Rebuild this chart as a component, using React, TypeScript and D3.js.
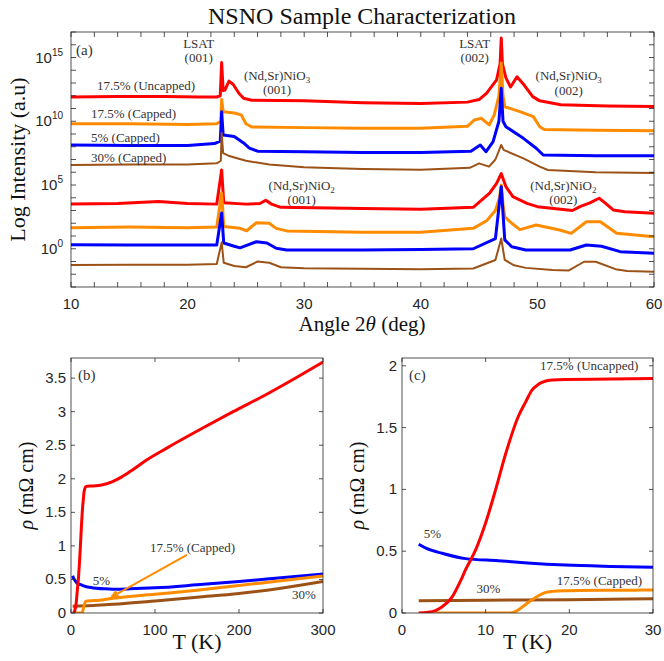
import React from 'react';
import * as d3 from 'd3';

// ---------- colours ----------
const RED = '#ff0000';
const ORANGE = '#ff8c00';
const BLUE = '#0000ff';
const BROWN = '#9c5216';

// ---------- panel (a) XRD data: [angle 2θ (deg), log10 intensity] ----------
const xrdRedUpper: [number, number][] = [
  [10, 11.9], [14, 11.95], [18, 11.95], [21, 11.9], [22.5, 11.9], [22.8, 12.0], [22.92, 14.6], [23.05, 12.4],
  [23.2, 12.45], [23.55, 13.15], [23.9, 12.9], [24.4, 12.2], [24.8, 11.8], [25.5, 11.65], [30, 11.6], [35, 11.45],
  [40, 11.4], [44, 11.5], [45, 11.7], [45.65, 12.2], [46.5, 13.24], [46.8, 14.5], [46.9, 16.53], [47.0, 14.5],
  [47.3, 13.4], [47.7, 12.69], [48.25, 13.49], [48.9, 12.8], [49.6, 11.93], [50.2, 11.6], [52, 11.3], [56, 11.2], [60, 11.15],
];
const xrdOrangeUpper: [number, number][] = [
  [10, 9.8], [15, 9.8], [20, 9.75], [22.5, 9.8], [22.85, 10.0], [22.92, 11.7], [23.05, 10.75], [24.0, 10.65],
  [24.6, 10.5], [25.0, 9.8], [25.5, 9.55], [30, 9.5], [35, 9.45], [40, 9.45], [44, 9.6], [44.6, 10.1], [45.2, 10.23],
  [45.87, 9.71], [46.3, 10.5], [46.7, 12.0], [46.9, 14.57], [47.05, 12.0], [47.2, 11.14], [48.5, 10.75], [49.65, 10.36],
  [50.2, 9.57], [50.6, 9.35], [55, 9.3], [60, 9.25],
];
const xrdBlueUpper: [number, number][] = [
  [10, 8.14], [15, 8.1], [20, 8.1], [22.3, 8.25], [22.8, 8.45], [22.92, 10.75], [23.05, 8.92], [24.0, 8.8],
  [24.8, 8.3], [25.3, 7.9], [26, 7.65], [30, 7.6], [35, 7.55], [40, 7.55], [44.3, 7.65], [45.1, 8.14], [45.6, 7.61],
  [46.2, 8.4], [46.7, 10.0], [46.9, 12.58], [47.05, 10.0], [47.3, 9.57], [48.8, 8.66], [49.9, 7.88], [50.5, 7.35],
  [55, 7.3], [60, 7.3],
];
const xrdBrownUpper: [number, number][] = [
  [10, 6.57], [15, 6.6], [20, 6.6], [22.5, 6.7], [22.85, 6.9], [22.92, 9.08], [23.05, 7.5], [23.5, 7.3], [25, 6.9],
  [27, 6.6], [30, 6.4], [35, 6.25], [40, 6.2], [44.2, 6.35], [45.0, 6.7], [45.85, 6.44], [46.4, 7.0], [46.9, 8.14],
  [47.1, 7.75], [48.8, 7.09], [50.2, 6.44], [50.9, 6.18], [55, 6.0], [60, 5.94],
];
const xrdRedLower: [number, number][] = [
  [10, 3.5], [14, 3.55], [17.5, 3.7], [20, 3.55], [22.5, 3.5], [22.92, 6.18], [23.1, 3.6], [25, 3.5], [26.2, 3.55],
  [26.7, 3.8], [27.2, 3.5], [28, 3.25], [35, 3.15], [40, 3.1], [44.5, 3.25], [45.9, 4.37], [46.5, 5.13], [46.9, 5.9],
  [47.3, 4.87], [47.9, 4.08], [49.1, 3.56], [50, 3.3], [53, 3.0], [53.65, 3.3], [54.5, 3.6], [55.3, 3.96], [55.8, 3.6],
  [56.5, 3.04], [57.5, 2.9], [60, 2.78],
];
const xrdOrangeLower: [number, number][] = [
  [10, 1.65], [15, 1.7], [20, 1.65], [22.5, 1.7], [22.92, 4.37], [23.1, 1.75], [24.5, 1.6], [25.07, 1.41], [25.9, 2.04],
  [27.0, 2.0], [27.6, 1.6], [28.5, 1.4], [35, 1.3], [40, 1.3], [44.5, 1.6], [45.65, 2.2], [46.4, 3.0], [46.75, 4.0],
  [46.9, 5.0], [47.05, 3.5], [47.2, 2.51], [47.8, 2.0], [48.5, 1.5], [49.9, 1.86], [51.9, 1.47], [52.9, 1.21],
  [54.2, 2.12], [55.4, 2.12], [56.8, 1.21], [60, 0.95],
];
const xrdBlueLower: [number, number][] = [
  [10, 0.31], [15, 0.3], [20, 0.3], [22.5, 0.3], [22.92, 2.8], [23.1, 0.45], [24.0, 0.2], [24.5, 0.07], [25.9, 0.55],
  [26.8, 0.45], [27.6, 0.04], [28.5, -0.1], [35, -0.1], [40, -0.05], [44.5, 0.0], [46.4, 0.8], [46.9, 4.87], [47.2, 0.7],
  [47.8, 0.16], [49, -0.1], [52.8, -0.1], [54.2, 0.29], [55.5, 0.2], [57.1, -0.23], [60, -0.36],
];
const xrdBrownLower: [number, number][] = [
  [10, -1.27], [15, -1.25], [20, -1.25], [22.5, -1.2], [22.92, 0.5], [23.1, -1.1], [24, -1.35], [25, -1.45], [26, -1.0],
  [27, -1.1], [28, -1.45], [30, -1.53], [40, -1.6], [44.5, -1.55], [46.4, -0.88], [46.9, 0.8], [47.2, -0.88], [48, -1.3],
  [49, -1.5], [51.3, -1.67], [52.7, -1.7], [54, -1.02], [55, -1.02], [56.7, -1.6], [57.7, -1.75], [60, -1.8],
];

const xrdXTicks = [10, 20, 30, 40, 50, 60];
const xrdYTickExps = [0, 5, 10, 15];

// ---------- panels (b),(c) resistivity data: [T (K), ρ (mΩ cm)] ----------
const rhoUncapped175: [number, number][] = [
  [2, 0], [3, 0.005], [4, 0.02], [4.8, 0.05], [6, 0.13], [7, 0.26], [7.6, 0.35], [8.8, 0.51], [10, 0.73], [11.2, 1.0],
  [12.4, 1.29], [13.9, 1.59], [14.8, 1.71], [15.5, 1.8], [16.3, 1.85], [17.1, 1.875], [18, 1.885], [19.5, 1.89],
  [25, 1.893], [30, 1.897], [35, 1.905], [40, 1.918], [45, 1.937], [50, 1.962], [60, 2.025], [74, 2.14], [90, 2.28],
  [113, 2.45], [153, 2.73], [193, 3.0], [233, 3.26], [270, 3.52], [300, 3.74],
];
const rho5: [number, number][] = [
  [2, 0.556], [3, 0.52], [4.8, 0.483], [7.6, 0.44], [11.5, 0.423], [15, 0.405], [19.5, 0.388], [25, 0.377], [30, 0.37],
  [40, 0.36], [50, 0.355], [70, 0.36], [100, 0.375], [150, 0.42], [200, 0.47], [250, 0.525], [300, 0.58],
];
const rhoCapped175: [number, number][] = [
  [4, 0], [12.7, 0], [13.3, 0.005], [13.9, 0.025], [14.7, 0.065], [15.5, 0.105], [16.3, 0.14], [17.1, 0.165],
  [18, 0.175], [19.5, 0.18], [25, 0.184], [30, 0.186], [40, 0.2], [50, 0.22], [100, 0.28], [150, 0.34], [200, 0.41],
  [250, 0.48], [300, 0.55],
];
const rho30: [number, number][] = [
  [2, 0.1], [10, 0.103], [20, 0.108], [30, 0.115], [50, 0.13], [100, 0.18], [150, 0.235], [200, 0.29], [250, 0.37], [300, 0.47],
];

const bXTicks = [0, 100, 200, 300];
const bYTicks = [0, 0.5, 1, 1.5, 2, 2.5, 3, 3.5];
const cXTicks = [0, 10, 20, 30];
const cYTicks = [0, 0.5, 1, 1.5, 2];

const SERIF = "'Liberation Serif', 'Times New Roman', serif";
const SANS = "'Liberation Sans', Arial, Helvetica, sans-serif";
const AXIS = '#262626';
const TXT = '#333333';

// ---------- layout ----------
const A = { l: 71, r: 654, t: 32, b: 287 };
const B = { l: 71, r: 323, t: 358, b: 613 };
const C = { l: 402, r: 653, t: 358, b: 613 };

function Box({ p }: { p: { l: number; r: number; t: number; b: number } }) {
  return <rect x={p.l} y={p.t} width={p.r - p.l} height={p.b - p.t} fill="none" stroke={AXIS} strokeWidth={0.8} />;
}

function PanelA() {
  const x = d3.scaleLinear().domain([10, 60]).range([A.l, A.r]);
  const y = d3.scaleLog().domain([1e-3, 1e17]).range([A.b, A.t]);
  const line = d3.line<[number, number]>().x(d => x(d[0])).y(d => y(Math.pow(10, d[1])));
  const minorX = d3.range(10, 60.01, 2);
  const decades = d3.range(-3, 17.01, 1);
  const tl = 5;
  const series: [string, [number, number][], number][] = [
    [RED, xrdRedLower, 3], [ORANGE, xrdOrangeLower, 3], [BLUE, xrdBlueLower, 3], [BROWN, xrdBrownLower, 2],
    [RED, xrdRedUpper, 3], [ORANGE, xrdOrangeUpper, 3], [BLUE, xrdBlueUpper, 3], [BROWN, xrdBrownUpper, 2],
  ];
  const peakLabel = (cx: number, y1: number, l1: React.ReactNode, l2: string, key: string) => (
    <g key={key} fontFamily={SERIF} fontSize={13} fill={TXT} textAnchor="middle">
      <text x={cx} y={y1 + 4.5}>{l1}</text>
      <text x={cx} y={y1 + 4.5 + 14.5}>{l2}</text>
    </g>
  );
  const nio = (n: string) => (<>(Nd,Sr)NiO<tspan fontSize={9} dy={3}>{n}</tspan></>);
  return (
    <g>
      <defs>
        <clipPath id="clipA"><rect x={A.l} y={A.t} width={A.r - A.l} height={A.b - A.t} /></clipPath>
      </defs>
      <g clipPath="url(#clipA)">
        {series.map(([c, d, w], i) => (
          <path key={i} d={line(d) || ''} fill="none" stroke={c} strokeWidth={w} strokeLinejoin="round" />
        ))}
      </g>
      <Box p={A} />
      {minorX.map(v => (
        <g key={'mx' + v} stroke={AXIS} strokeWidth={0.8}>
          <line x1={x(v)} x2={x(v)} y1={A.b} y2={A.b - tl} />
          <line x1={x(v)} x2={x(v)} y1={A.t} y2={A.t + tl} />
        </g>
      ))}
      {decades.map(v => (
        <g key={'dy' + v} stroke={AXIS} strokeWidth={0.8}>
          <line x1={A.l} x2={A.l + tl} y1={y(Math.pow(10, v))} y2={y(Math.pow(10, v))} />
          <line x1={A.r} x2={A.r - tl} y1={y(Math.pow(10, v))} y2={y(Math.pow(10, v))} />
        </g>
      ))}
      {xrdXTicks.map(v => (
        <text key={'xl' + v} x={x(v)} y={309} fontFamily={SANS} fontSize={15} fill={AXIS} textAnchor="middle">{v}</text>
      ))}
      {xrdYTickExps.map(v => (
        <text key={'yl' + v} x={63} y={y(Math.pow(10, v)) + 5} fontFamily={SANS} fontSize={15} fill={AXIS} textAnchor="end">
          10<tspan fontSize={10} dy={-7}>{v}</tspan>
        </text>
      ))}
      <text x={362} y={24} fontFamily={SERIF} fontSize={24} fill="#111" textAnchor="middle">NSNO Sample Characterization</text>
      <text x={362} y={331} fontFamily={SERIF} fontSize={21} fill="#111" textAnchor="middle">
        Angle 2<tspan fontStyle="italic">θ</tspan> (deg)
      </text>
      <text transform={`translate(25, ${(A.t + A.b) / 2}) rotate(-90)`} fontFamily={SERIF} fontSize={22} fill="#111" textAnchor="middle">
        Log Intensity (a.u)
      </text>
      <text x={76} y={55} fontFamily={SERIF} fontSize={15} fill={TXT}>(a)</text>
      {peakLabel(198.7, 43, 'LSAT', '(001)', 'p1')}
      {peakLabel(474.7, 43, 'LSAT', '(002)', 'p2')}
      {peakLabel(277, 75, nio('3'), '(001)', 'p3')}
      {peakLabel(568.7, 75.5, nio('3'), '(002)', 'p4')}
      {peakLabel(301.7, 185, nio('2'), '(001)', 'p5')}
      {peakLabel(563.3, 185, nio('2'), '(002)', 'p6')}
      <g fontFamily={SERIF} fontSize={13} fill={TXT}>
        <text x={97} y={89.5}>17.5% (Uncapped)</text>
        <text x={91} y={117.5}>17.5% (Capped)</text>
        <text x={91} y={141.5}>5% (Capped)</text>
        <text x={91} y={161.5}>30% (Capped)</text>
      </g>
    </g>
  );
}

type Ann = { t: string; x: number; y: number; anchor?: string };

function RhoPanel({ p, xd, yd, xt, yt, id, label, anns, arrow }: {
  p: { l: number; r: number; t: number; b: number }; xd: [number, number]; yd: [number, number];
  xt: number[]; yt: number[]; id: string; label: string; anns: Ann[]; arrow?: [number, number, number, number];
}) {
  const x = d3.scaleLinear().domain(xd).range([p.l, p.r]);
  const y = d3.scaleLinear().domain(yd).range([p.b, p.t]);
  const line = d3.line<[number, number]>().x(d => x(d[0])).y(d => y(d[1])).curve(d3.curveMonotoneX);
  const tl = 4;
  const series: [string, [number, number][]][] = [
    [BROWN, rho30], [BLUE, rho5], [ORANGE, rhoCapped175], [RED, rhoUncapped175],
  ];
  let arrowEl = null;
  if (arrow) {
    const x1 = x(arrow[0]), y1 = y(arrow[1]), x2 = x(arrow[2]), y2 = y(arrow[3]);
    const ang = Math.atan2(y2 - y1, x2 - x1);
    const hl = 9, hw = 4;
    const bx = x2 - hl * Math.cos(ang), by = y2 - hl * Math.sin(ang);
    const pts = [
      [x2, y2],
      [bx + hw * Math.sin(ang), by - hw * Math.cos(ang)],
      [bx - hw * Math.sin(ang), by + hw * Math.cos(ang)],
    ];
    arrowEl = (
      <g>
        <line x1={x1} y1={y1} x2={bx} y2={by} stroke={ORANGE} strokeWidth={2} />
        <polygon points={pts.map(q => q.join(',')).join(' ')} fill={ORANGE} />
      </g>
    );
  }
  return (
    <g>
      <defs>
        <clipPath id={id}><rect x={p.l} y={p.t} width={p.r - p.l} height={p.b - p.t} /></clipPath>
      </defs>
      <g clipPath={`url(#${id})`}>
        {series.map(([c, d], i) => (
          <path key={i} d={line(d) || ''} fill="none" stroke={c} strokeWidth={3} strokeLinejoin="round" />
        ))}
      </g>
      <Box p={p} />
      {xt.map(v => (
        <g key={'xt' + v} stroke={AXIS} strokeWidth={0.8}>
          <line x1={x(v)} x2={x(v)} y1={p.b} y2={p.b - tl} />
          <line x1={x(v)} x2={x(v)} y1={p.t} y2={p.t + tl} />
        </g>
      ))}
      {yt.map(v => (
        <g key={'yt' + v} stroke={AXIS} strokeWidth={0.8}>
          <line x1={p.l} x2={p.l + tl} y1={y(v)} y2={y(v)} />
          <line x1={p.r} x2={p.r - tl} y1={y(v)} y2={y(v)} />
        </g>
      ))}
      {xt.map(v => (
        <text key={'xl' + v} x={x(v)} y={635} fontFamily={SANS} fontSize={15} fill={AXIS} textAnchor="middle">{v}</text>
      ))}
      {yt.map(v => (
        <text key={'yl' + v} x={p.l - 5} y={y(v) + 5} fontFamily={SANS} fontSize={15} fill={AXIS} textAnchor="end">{v}</text>
      ))}
      <text x={(p.l + p.r) / 2} y={649} fontFamily={SERIF} fontSize={22} fill="#111" textAnchor="middle">T (K)</text>
      <text transform={`translate(${p.l - 38}, ${(p.t + p.b) / 2}) rotate(-90)`} fontFamily={SERIF} fontSize={20} fill="#111" textAnchor="middle">
        <tspan fontStyle="italic">ρ</tspan> (mΩ cm)
      </text>
      <text x={p.l + 7} y={380} fontFamily={SERIF} fontSize={15} fill={TXT}>{label}</text>
      {arrowEl}
      {anns.map((a, i) => (
        <text key={i} x={x(a.x)} y={y(a.y) + 4.5} fontFamily={SERIF} fontSize={13} fill={TXT} textAnchor={a.anchor || 'start'}>{a.t}</text>
      ))}
    </g>
  );
}

const bAnnotations: Ann[] = [
  { t: '17.5% (Capped)', x: 94, y: 0.98 },
  { t: '5%', x: 26, y: 0.49 },
  { t: '30%', x: 263, y: 0.27 },
];
const bArrow: [number, number, number, number] = [138, 0.865, 46, 0.225];
const cAnnotations: Ann[] = [
  { t: '17.5% (Uncapped)', x: 16.5, y: 2.0 },
  { t: '5%', x: 2.6, y: 0.645 },
  { t: '30%', x: 8.9, y: 0.195 },
  { t: '17.5% (Capped)', x: 18.5, y: 0.26 },
];

export default function App() {
  return (
    <svg width={664} height={661} style={{ position: 'absolute', left: 0, top: 0, background: '#fff' }}>
      <rect width={664} height={661} fill="#fff" />
      <PanelA />
      <RhoPanel p={B} xd={[0, 300]} yd={[0, 3.8]} xt={bXTicks} yt={bYTicks} id="clipB" label="(b)" anns={bAnnotations} arrow={bArrow} />
      <RhoPanel p={C} xd={[0, 30]} yd={[0, 2.063]} xt={cXTicks} yt={cYTicks} id="clipC" label="(c)" anns={cAnnotations} />
    </svg>
  );
}
